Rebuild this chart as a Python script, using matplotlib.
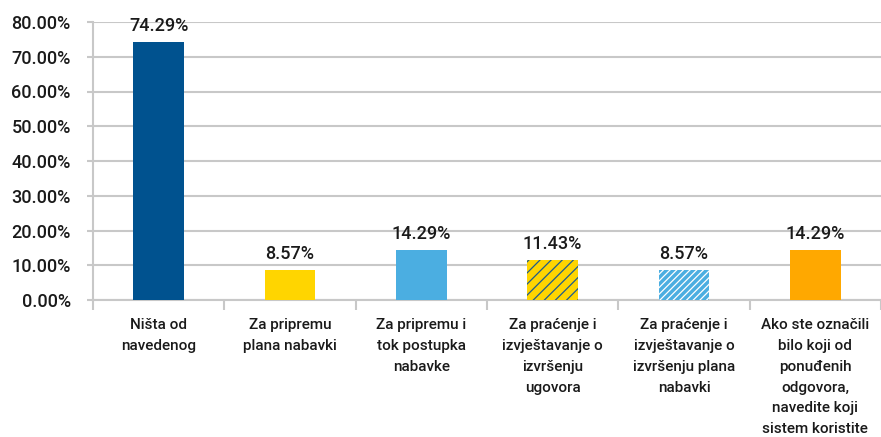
import matplotlib.pyplot as plt
from matplotlib.ticker import FuncFormatter

# DATA
categories = [
    'Ništa od\nnavedenog',
    'Za pripremu\nplana nabavki',
    'Za pripremu i\ntok postupka\nnabavke',
    'Za praćenje i\nizvještavanje o\nizvršenju\nugovora',
    'Za praćenje i\nizvještavanje o\nizvršenju plana\nnabavki',
    'Ako ste označili\nbilo koji od\nponuđenih\nodgovora,\nnavedite koji\nsistem koristite',
]
values = [74.29, 8.57, 14.29, 11.43, 8.57, 14.29]
colors = ['#00528F', '#FFD500', '#4BAEE1', '#FFD500', '#4BAEE1', '#FFA800']
hatches = ['', '', '', '///', '/////', '']
hatch_colors = ['#00528F', '#FFD500', '#4BAEE1', '#1F5C8C', 'white', '#FFA800']

plt.rcParams['font.family'] = ['Roboto', 'DejaVu Sans']
plt.rcParams['hatch.linewidth'] = 0.9

fig = plt.figure(figsize=(8.81, 4.37), dpi=100)
ax = fig.add_axes([93 / 881, 137 / 437, 788 / 881, 278 / 437])

x = list(range(len(values)))
bars = ax.bar(x, values, width=0.385, color=colors, linewidth=0, zorder=3)
for b, h, hc in zip(bars, hatches, hatch_colors):
    if h:
        b.set_hatch(h)
        b.set_edgecolor(hc)
        b.set_linewidth(0)

for xi, v in zip(x, values):
    ax.annotate(f'{v:.2f}%', (xi, v), xytext=(0, 5), textcoords='offset points',
                ha='center', va='bottom', fontsize=13, fontweight='medium',
                color='#1a1a1a')

ax.set_ylim(0, 80)
ax.set_xlim(-0.5, 5.47)
ax.set_yticks(range(0, 81, 10))
ax.yaxis.set_major_formatter(FuncFormatter(lambda v, p: f'{v:.2f}%'))
ax.grid(axis='y', color='#C8C8C8', linewidth=1.5, zorder=0)
ax.tick_params(axis='y', length=4, width=1.5, color='#C8C8C8', pad=12,
               labelsize=13, labelcolor='#1a1a1a')
for lab in ax.get_yticklabels():
    lab.set_fontweight('medium')

ax.set_xticks(x)
ax.set_xticklabels(categories, fontsize=11, color='#1a1a1a', fontweight='medium',
                   linespacing=1.62, va='top')
ax.tick_params(axis='x', which='major', length=0, pad=13)
ax.set_xticks([i - 0.5 for i in range(len(values) + 1)], minor=True)
ax.tick_params(axis='x', which='minor', length=7, width=1.5, color='#C8C8C8')

for s in ['top', 'right']:
    ax.spines[s].set_visible(False)
ax.spines['left'].set_color('#C8C8C8')
ax.spines['left'].set_linewidth(1.5)
ax.spines['bottom'].set_color('#C8C8C8')
ax.spines['bottom'].set_linewidth(1.5)

plt.savefig('out.png', dpi=100)
